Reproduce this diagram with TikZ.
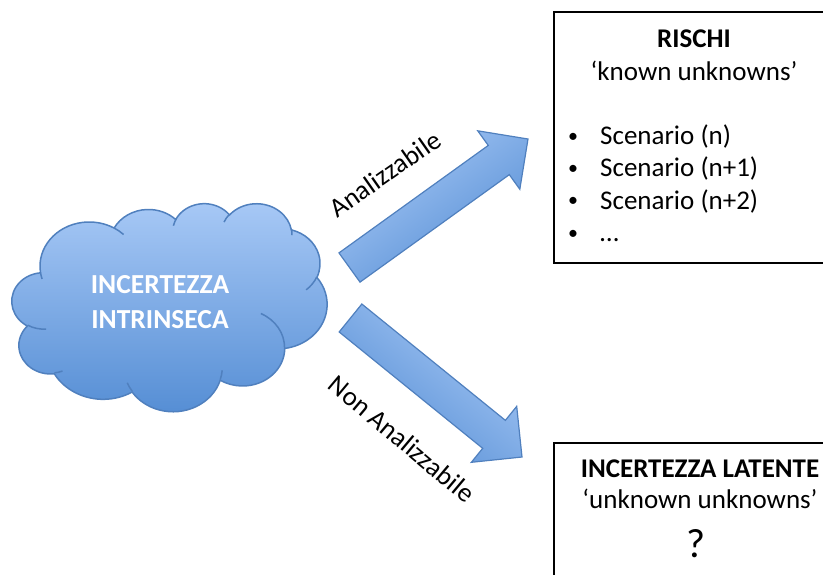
\documentclass[tikz,border=0pt]{standalone}
\usepackage{fontspec}
\setmainfont{Carlito}
\usetikzlibrary{calc}
\definecolor{cLight}{RGB}{168,201,246}
\definecolor{cDark}{RGB}{84,141,212}
\definecolor{cLine}{RGB}{80,128,190}

% DrawingML arcTo (visual angles) -> TikZ parametric start / delta
\newcommand\cArcDef[6]{%
 \pgfmathsetmacro\tmpS{atan2((#3)*sin(#5),(#4)*cos(#5))}%
 \pgfmathsetmacro\tmpE{atan2((#3)*sin((#5)+(#6)),(#4)*cos((#5)+(#6)))}%
 \pgfmathsetmacro\tmpD{\tmpE-\tmpS}%
 \pgfmathsetmacro\tmpD{\tmpD+360*and(#6>0,\tmpD<0)-360*and(#6<0,\tmpD>0)}%
 \let#1\tmpS \let#2\tmpD}

\cArcDef\clSa\clDa{67.53}{91.90}{-190.4875}{123.7805}
\cArcDef\clSb\clDb{53.33}{72.67}{-144.1024}{89.9452}
\cArcDef\clSc\clDc{43.65}{59.45}{-145.8079}{99.7230}
\cArcDef\clSd\clDd{48.57}{65.95}{-130.9861}{117.2417}
\cArcDef\clSe\clDe{53.33}{72.73}{-78.7089}{109.0269}
\cArcDef\clSf\clDf{67.75}{92.20}{-46.2673}{130.2690}
\cArcDef\clSg\clDg{57.85}{78.67}{0.6250}{114.0333}
\cArcDef\clSh\clDh{67.52}{92.15}{22.4516}{115.1726}
\cArcDef\clSi\clDi{77.20}{105.43}{66.2426}{75.7110}
\cArcDef\clSj\clDj{43.60}{59.18}{-274.9421}{146.7356}
\cArcDef\clSk\clDk{43.45}{59.45}{-246.8285}{152.5189}

\cArcDef\inSa\inDa{43.45}{59.45}{86.7420}{26.4295}
\cArcDef\inSb\inDb{43.60}{59.18}{73.6105}{11.4475}
\cArcDef\inSc\inDc{67.52}{92.15}{137.6242}{14.0811}
\cArcDef\inSd\inDd{67.52}{92.15}{6.4533}{15.9984}
\cArcDef\inSe\inDe{57.85}{78.67}{-70.2924}{70.9174}
\cArcDef\inSf\inDf{53.33}{72.73}{30.3180}{27.7515}
\cArcDef\inSg\inDg{48.57}{65.95}{-13.7443}{14.8589}
\cArcDef\inSh\inDh{48.57}{65.95}{-149.1815}{18.1954}
\cArcDef\inSi\inDi{43.65}{59.45}{-163.4943}{17.6864}
\cArcDef\inSj\inDj{67.53}{91.90}{-66.7070}{12.3194}
\cArcDef\inSk\inDk{67.53}{91.90}{157.6544}{11.8582}

\tikzset{
 boxst/.style={draw=black, line width=2pt, fill=white, rectangle, inner sep=0pt, anchor=north west},
 boxtxt/.style={font=\fontsize{27}{33}\selectfont, inner sep=0pt, anchor=base},
 bulletst/.style={font=\fontsize{20}{24}\selectfont, inner sep=0pt, anchor=base},
 lbl/.style={font=\fontsize{27}{32}\selectfont, inner sep=0pt},
 cloudtxt/.style={font=\fontsize{27.5}{35}\selectfont\bfseries, text=white, inner sep=0pt, align=center},
 blockarrow/.style={draw=cLine, line width=1.2pt, top color=cLight, bottom color=cDark, line join=miter},
 cloudfill/.style={draw=cLine, line width=1.5pt, top color=cLight, bottom color=cDark},
 cloudinner/.style={draw=cLine, line width=1.5pt},
}

\begin{document}
\begin{tikzpicture}[x=1pt, y=-1pt]
\useasboundingbox (0,0) rectangle (823,574);
\clip (0,0) rectangle (823,574);

% ---- cloud ----
\begin{scope}[shift={(12,203)}, x=0.72917pt, y=-0.48148pt]
 \path[cloudfill] (39.00,143.70)
  arc[start angle=\clSa, delta angle=\clDa, x radius=67.53, y radius=91.90]
  arc[start angle=\clSb, delta angle=\clDb, x radius=53.33, y radius=72.67]
  arc[start angle=\clSc, delta angle=\clDc, x radius=43.65, y radius=59.45]
  arc[start angle=\clSd, delta angle=\clDd, x radius=48.57, y radius=65.95]
  arc[start angle=\clSe, delta angle=\clDe, x radius=53.33, y radius=72.73]
  arc[start angle=\clSf, delta angle=\clDf, x radius=67.75, y radius=92.20]
  arc[start angle=\clSg, delta angle=\clDg, x radius=57.85, y radius=78.67]
  arc[start angle=\clSh, delta angle=\clDh, x radius=67.52, y radius=92.15]
  arc[start angle=\clSi, delta angle=\clDi, x radius=77.20, y radius=105.43]
  arc[start angle=\clSj, delta angle=\clDj, x radius=43.60, y radius=59.18]
  arc[start angle=\clSk, delta angle=\clDk, x radius=43.45, y radius=59.45]
  -- cycle;
 \path[cloudinner]
  (46.93,261.77) arc[start angle=\inSa, delta angle=\inDa, x radius=43.45, y radius=59.45]
  (69.28,348.99) arc[start angle=\inSb, delta angle=\inDb, x radius=43.60, y radius=59.18]
  (164.78,390.90) arc[start angle=\inSc, delta angle=\inDc, x radius=67.52, y radius=92.15]
  (288.27,347.51) arc[start angle=\inSd, delta angle=\inDd, x radius=67.52, y radius=92.15]
  (341.29,229.54) arc[start angle=\inSe, delta angle=\inDe, x radius=57.85, y radius=78.67]
  (417.98,153.54) arc[start angle=\inSf, delta angle=\inDf, x radius=53.33, y radius=72.73]
  (383.24,54.26) arc[start angle=\inSg, delta angle=\inDg, x radius=48.57, y radius=65.95]
  (290.78,39.52) arc[start angle=\inSh, delta angle=\inDh, x radius=48.57, y radius=65.95]
  (221.41,47.20) arc[start angle=\inSi, delta angle=\inDi, x radius=43.65, y radius=59.45]
  (140.00,51.92) arc[start angle=\inSj, delta angle=\inDj, x radius=67.53, y radius=91.90]
  (41.27,157.89) arc[start angle=\inSk, delta angle=\inDk, x radius=67.53, y radius=91.90];
\end{scope}
\node[cloudtxt] (cloud) at (160,302.5) {INCERTEZZA\\INTRINSECA};

% ---- boxes ----
\node[boxst, minimum width=290pt, minimum height=251pt] (rischi) at (553,11) {};
\node[boxst, minimum width=290pt, minimum height=160pt] (latente) at (553,442) {};

\node[boxtxt, font=\fontsize{27}{33}\selectfont\bfseries] (t1) at (694,47.5) {RISCHI};
\node[boxtxt] (t2) at (694,80) {‘known unknowns’};
\node[bulletst] (b1) at (573,142) {•};
\node[bulletst] (b2) at (573,174.4) {•};
\node[bulletst] (b3) at (573,206.8) {•};
\node[bulletst] (b4) at (573,239.2) {•};
\node[boxtxt, anchor=base west] (s1) at (600,144.5) {Scenario (n)};
\node[boxtxt, anchor=base west] (s2) at (600,176.9) {Scenario (n+1)};
\node[boxtxt, anchor=base west] (s3) at (600,209.3) {Scenario (n+2)};
\node[boxtxt, anchor=base west] (s4) at (600,241.7) {…};

\node[boxtxt, font=\fontsize{27}{33}\selectfont\bfseries] (u1) at (700,477.5) {INCERTEZZA LATENTE};
\node[boxtxt] (u2) at (700,508.5) {‘unknown unknowns’};
\node[boxtxt, font=\fontsize{41}{46}\selectfont] (u3) at (696,557) {?};

% ---- block arrows ----
\coordinate (a1s) at (349.5,267.5);
\coordinate (a1e) at (528,139);
\coordinate (a1h) at ($(a1e)!36pt!(a1s)$);
\path[blockarrow, shading angle=36]
 ($(a1s)!18pt!90:(a1e)$) -- ($(a1h)!18pt!-90:(a1s)$) -- ($(a1h)!36pt!-90:(a1s)$) -- (a1e)
 -- ($(a1h)!36pt!90:(a1s)$) -- ($(a1h)!18pt!90:(a1s)$) -- ($(a1s)!18pt!-90:(a1e)$) -- cycle;

\coordinate (a2s) at (350.5,318);
\coordinate (a2e) at (522,457);
\coordinate (a2h) at ($(a2e)!36pt!(a2s)$);
\path[blockarrow, shading angle=-39]
 ($(a2s)!18pt!90:(a2e)$) -- ($(a2h)!18pt!-90:(a2s)$) -- ($(a2h)!36pt!-90:(a2s)$) -- (a2e)
 -- ($(a2h)!36pt!90:(a2s)$) -- ($(a2h)!18pt!90:(a2s)$) -- ($(a2s)!18pt!-90:(a2e)$) -- cycle;

\node[lbl, rotate=35] (l1) at (385,174) {Analizzabile};
\node[lbl, rotate=-40] (l2) at (402,439) {Non Analizzabile};
\end{tikzpicture}
\end{document}
